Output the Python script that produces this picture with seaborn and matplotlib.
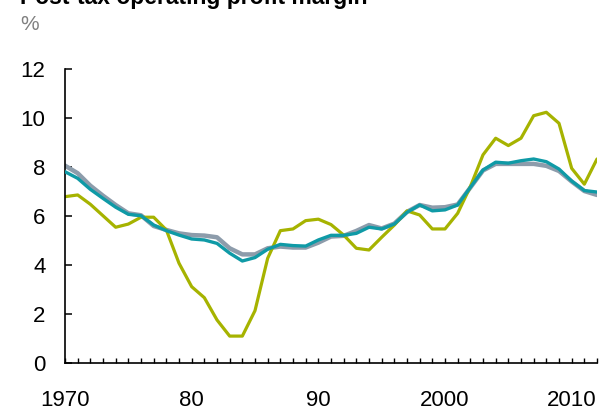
import matplotlib
matplotlib.use("Agg")
import matplotlib.pyplot as plt
import seaborn as sns
import pandas as pd

# Annual post-tax operating profit margin, %
years = list(range(1970, 2013))

series_a = [8.05, 7.74, 7.23, 6.82, 6.44, 6.10, 6.02, 5.58, 5.42, 5.28,
            5.21, 5.19, 5.12, 4.67, 4.42, 4.42, 4.67, 4.74, 4.70, 4.70,
            4.90, 5.15, 5.18, 5.38, 5.62, 5.48, 5.68, 6.16, 6.44, 6.33,
            6.35, 6.46, 7.15, 7.85, 8.12, 8.12, 8.12, 8.12, 8.04, 7.83,
            7.40, 7.01, 6.85]

series_b = [6.78, 6.85, 6.47, 6.00, 5.53, 5.66, 5.94, 5.94, 5.42, 4.06,
            3.10, 2.65, 1.74, 1.08, 1.08, 2.12, 4.26, 5.39, 5.46, 5.80,
            5.86, 5.64, 5.21, 4.67, 4.60, 5.12, 5.62, 6.20, 6.03, 5.46,
            5.46, 6.10, 7.19, 8.49, 9.17, 8.87, 9.17, 10.09, 10.23, 9.78,
            7.94, 7.29, 8.32]

series_c = [7.80, 7.53, 7.08, 6.71, 6.35, 6.06, 6.00, 5.62, 5.39, 5.21,
            5.05, 5.01, 4.87, 4.47, 4.15, 4.29, 4.63, 4.83, 4.78, 4.76,
            5.01, 5.20, 5.20, 5.28, 5.53, 5.46, 5.66, 6.14, 6.44, 6.20,
            6.24, 6.44, 7.16, 7.87, 8.19, 8.15, 8.25, 8.32, 8.21, 7.91,
            7.42, 7.03, 6.97]

y_ticks = [0, 2, 4, 6, 8, 10, 12]
x_label_years = {1970: "1970", 1980: "80", 1990: "90", 2000: "2000", 2010: "2010"}

sns.set_theme(style="white")
plt.rcParams["font.family"] = ["Liberation Sans", "DejaVu Sans"]

df = pd.concat([
    pd.DataFrame({"year": years, "margin": series_a, "series": "A"}),
    pd.DataFrame({"year": years, "margin": series_b, "series": "B"}),
    pd.DataFrame({"year": years, "margin": series_c, "series": "C"}),
])

fig = plt.figure(figsize=(6.05, 4.11), dpi=100)
ax = fig.add_axes([65 / 605, 1 - 362.5 / 411, (597 - 65) / 605, (362.5 - 69) / 411])

styles = {"A": ("#8d9cab", 3.2, 1), "B": ("#a6b300", 2.3, 2), "C": ("#0f9aa6", 2.4, 3)}
for name, (color, lw, z) in styles.items():
    sns.lineplot(data=df[df["series"] == name], x="year", y="margin",
                 color=color, linewidth=lw, ax=ax, zorder=z, legend=False)

ax.set_xlim(1970, 2012)
ax.set_ylim(0, 12)
ax.set_xlabel("")
ax.set_ylabel("")

ax.set_yticks(y_ticks)
ax.set_yticklabels([str(v) for v in y_ticks])
ax.set_xticks(years)
ax.set_xticklabels([x_label_years.get(y, "") for y in years])

for side in ["top", "right"]:
    ax.spines[side].set_visible(False)
for side in ["left", "bottom"]:
    ax.spines[side].set_color("black")
    ax.spines[side].set_linewidth(1.2)

ax.tick_params(axis="y", direction="in", length=5, width=1.1, color="black",
               labelsize=16, pad=14, left=True)
ax.tick_params(axis="x", direction="in", length=3.8, width=1.0, color="black",
               labelsize=16, pad=20, bottom=True)
for lbl in ax.get_xticklabels() + ax.get_yticklabels():
    lbl.set_color("black")

fig.text(20 / 605, 1 - 4 / 411, "Post-tax operating profit margin",
         fontsize=16.5, fontweight="bold", color="black", va="baseline", ha="left")
fig.text(20 / 605, 1 - 30 / 411, "%", fontsize=15, color="#808080",
         va="baseline", ha="left")

fig.savefig("out.png", dpi=100)
